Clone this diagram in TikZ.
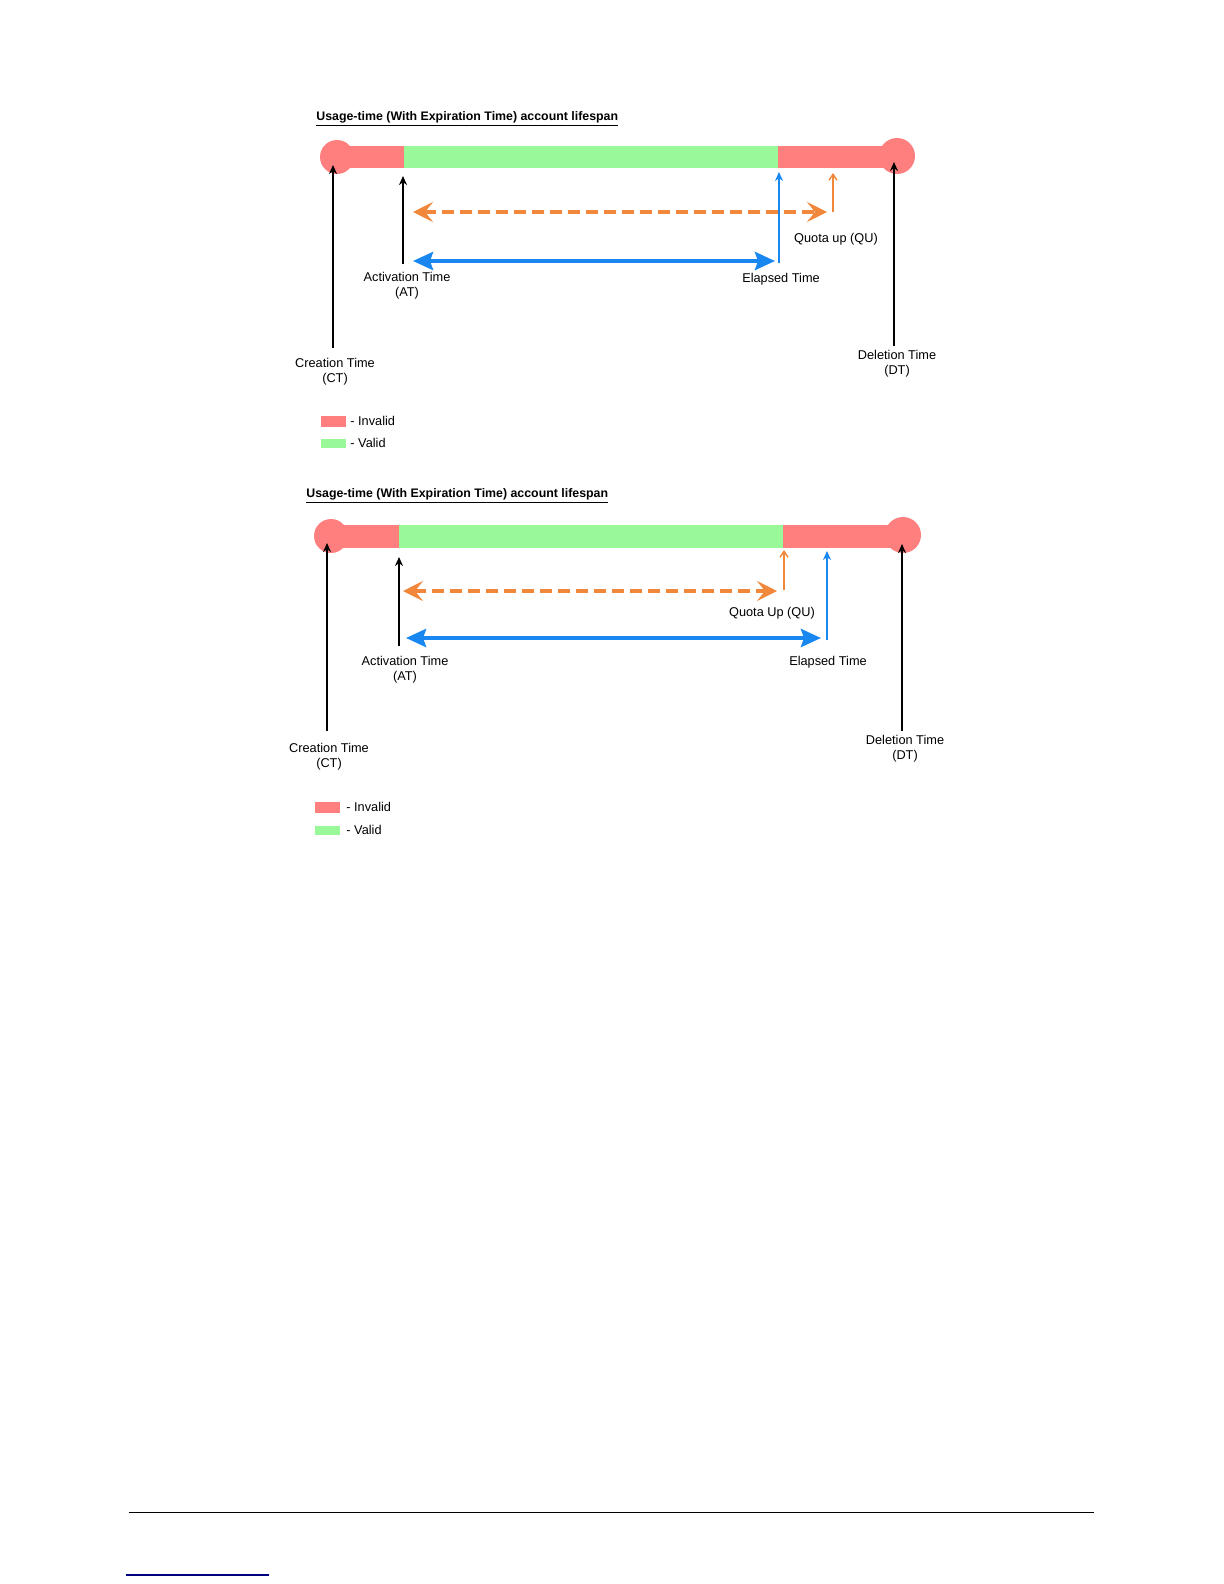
\documentclass[tikz,border=0pt]{standalone}
\usepackage{fontspec}
\setmainfont{Liberation Sans}
\usetikzlibrary{arrows.meta}

\definecolor{invalido}{HTML}{FF7F7F}
\definecolor{valido}{HTML}{99F999}
\definecolor{naranja}{HTML}{F0873A}
\definecolor{azul}{HTML}{1888F0}
\definecolor{enlace}{HTML}{000080}

\begin{document}
\begin{tikzpicture}[
      x=0.5bp, y=-0.5bp,
      every node/.style={font=\fontsize{6.4}{7.5}\selectfont, inner sep=0pt},
      lbl/.style={align=center},
      titulo/.style={anchor=west, font=\fontsize{6.2}{7.5}\selectfont\bfseries},
      leyenda/.style={anchor=west},
      negra/.style={-{Stealth[length=4.5bp,width=4bp]}, line width=1bp},
      azulv/.style={azul, -{Stealth[length=4.5bp,width=4bp]}, line width=1bp},
      naranjav/.style={naranja, -{Straight Barb[length=3bp,width=4bp]}, line width=0.7bp},
      naranjad/.style={naranja, line width=2bp, dash pattern=on 6bp off 3bp,
        {Stealth[length=10bp,width=10bp,inset=4bp]}-{Stealth[length=10bp,width=10bp,inset=4bp]}},
      azuld/.style={azul, line width=2bp,
        {Stealth[length=10bp,width=9bp,inset=1.5bp]}-{Stealth[length=10bp,width=9bp,inset=1.5bp]}}
    ]
    \useasboundingbox (0,0) rectangle (1224,1584);

    % DIAGRAMA 1
    \node[titulo] (tit1) at (316,119) {\underline{Usage-time (With Expiration Time) account lifespan}};
    \fill[invalido] (337,157) circle[radius=17];
    \fill[invalido] (897,156) circle[radius=18];
    \fill[invalido] (337,146) rectangle (897,168);
    \fill[valido] (404,146) rectangle (778,168);

    \coordinate (ct1) at (333,165);
    \coordinate (at1) at (403,176);
    \coordinate (et1) at (779,172);
    \coordinate (qu1) at (833,173);
    \coordinate (dt1) at (894,162);
    \coordinate (qui1) at (413,212);
    \coordinate (qud1) at (827,212);
    \coordinate (eti1) at (413,261);
    \coordinate (etd1) at (775,261);

    \node[lbl] (ctl1) at (335,371.5) {Creation Time\\(CT)};
    \node[lbl] (atl1) at (407,285.5) {Activation Time\\(AT)};
    \node[lbl] (etl1) at (781,279) {Elapsed Time};
    \node[lbl] (qul1) at (836,239) {Quota up (QU)};
    \node[lbl] (dtl1) at (897,364) {Deletion Time\\(DT)};

    \draw[negra, shorten <=5bp] (ctl1.north -| ct1) -- (ct1);
    \draw[negra, shorten <=4bp] (atl1.north -| at1) -- (at1);
    \draw[azulv, shorten <=5bp] (etl1.north -| et1) -- (et1);
    \draw[naranjav, shorten <=10.5bp] (qul1.north -| qu1) -- (qu1);
    \draw[negra, shorten <=2.25bp] (dtl1.north -| dt1) -- (dt1);
    \draw[naranjad] (qui1) -- (qud1);
    \draw[azuld] (eti1) -- (etd1);

    \fill[invalido] (321,416) rectangle (346,427);
    \node[leyenda] (inv1) at (350,421) {- Invalid};
    \fill[valido] (321,439) rectangle (346,448);
    \node[leyenda] (val1) at (350,443) {- Valid};

    % DIAGRAMA 2
    \node[titulo] (tit2) at (306,496) {\underline{Usage-time (With Expiration Time) account lifespan}};
    \fill[invalido] (331,536) circle[radius=17];
    \fill[invalido] (903,535) circle[radius=18];
    \fill[invalido] (331,525) rectangle (903,548);
    \fill[valido] (399,525) rectangle (783,548);

    \coordinate (ct2) at (327,543);
    \coordinate (at2) at (399,557);
    \coordinate (qu2) at (784,550);
    \coordinate (et2) at (827,551);
    \coordinate (dt2) at (902,544);
    \coordinate (qui2) at (403,591);
    \coordinate (qud2) at (777,591);
    \coordinate (eti2) at (406,638);
    \coordinate (etd2) at (821,638);

    \node[lbl] (ctl2) at (329,756.5) {Creation Time\\(CT)};
    \node[lbl] (atl2) at (405,669.5) {Activation Time\\(AT)};
    \node[lbl] (qul2) at (772,613) {Quota Up (QU)};
    \node[lbl] (etl2) at (828,662) {Elapsed Time};
    \node[lbl] (dtl2) at (905,748.5) {Deletion Time\\(DT)};

    \draw[negra, shorten <=5.75bp] (ctl2.north -| ct2) -- (ct2);
    \draw[negra, shorten <=4.75bp] (atl2.north -| at2) -- (at2);
    \draw[naranjav, shorten <=8.25bp] (qul2.north -| qu2) -- (qu2);
    \draw[azulv, shorten <=7.75bp] (etl2.north -| et2) -- (et2);
    \draw[negra, shorten <=1.75bp] (dtl2.north -| dt2) -- (dt2);
    \draw[naranjad] (qui2) -- (qud2);
    \draw[azuld] (eti2) -- (etd2);

    \fill[invalido] (315,802) rectangle (340,813);
    \node[leyenda] (inv2) at (346,807) {- Invalid};
    \fill[valido] (315,826) rectangle (340,835);
    \node[leyenda] (val2) at (346,830) {- Valid};

    % PIE DE PAGINA
    \coordinate (pie1) at (129,1512);
    \coordinate (pie2) at (1094,1512);
    \coordinate (nota1) at (126,1575);
    \coordinate (nota2) at (269,1575);
    \draw[line width=0.5bp] (pie1) -- (pie2);
    \draw[enlace, line width=0.6bp] (nota1) -- (nota2);
  \end{tikzpicture}
\end{document}
